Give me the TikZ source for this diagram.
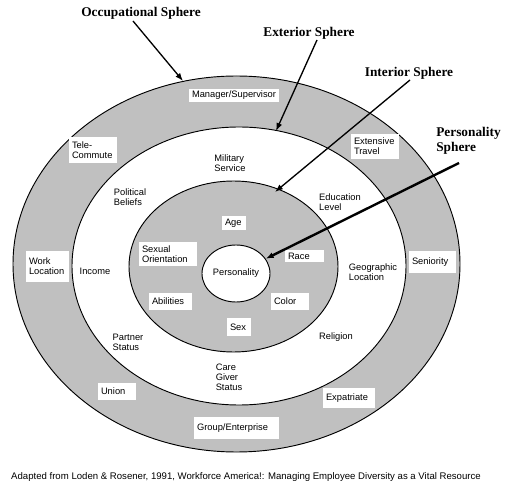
\documentclass[tikz,border=0pt]{standalone}
\usepackage{fontspec}
\setmainfont{Liberation Sans}
\newfontfamily\titlefont{Liberation Serif}
\usetikzlibrary{shapes.geometric,arrows.meta}
\definecolor{ringgray}{RGB}{192,192,192}
\newcommand{\labelsize}{\fontsize{7}{7.6}\selectfont}
\begin{document}
\begin{tikzpicture}[x=0.75pt,y=-0.75pt,
    ring/.style={draw=black,line width=0.7pt},
    tag/.style={fill=white,inner xsep=2.25pt,inner ysep=1pt,align=left,font=\labelsize},
    word/.style={inner sep=0pt,align=left,font=\labelsize},
    sphere/.style={inner sep=0pt,align=left,font=\titlefont\bfseries\fontsize{10}{11.5}\selectfont},
    pointer/.style={-{Latex[length=6pt,width=4.5pt]},line width=1pt}]
            \useasboundingbox (0,0) rectangle (507,488);

            \draw[ring,fill=ringgray] (236.5,264) ellipse [x radius=223.5,y radius=188];
            \draw[ring,fill=white] (239,266) ellipse [x radius=167,y radius=139];
            \draw[ring,fill=ringgray] (233.5,266.5) ellipse [x radius=104.5,y radius=85.5];
            \node[ring,ellipse,fill=white,inner sep=0pt,minimum width=51pt,minimum height=42.75pt,font=\labelsize] (core) at (236,273.5) {Personality};

            \node[tag,text width=63pt,minimum height=9.75pt] (mgr) at (234,95.5) {Manager/Supervisor};
            \node[tag,text width=31.5pt,minimum height=19.5pt] (tele) at (93,150) {Tele-\\Commute};
            \node[tag,text width=31.5pt,minimum height=18.75pt] (travel) at (375,146.5) {Extensive\\Travel};
            \node[tag,text width=27.75pt,minimum height=23.25pt] (work) at (47.5,266.5) {Work\\Location};
            \node[tag,text width=30.75pt,minimum height=16.5pt] (senior) at (432.5,262) {Seniority};
            \node[tag,text width=24pt,minimum height=12.75pt] (union) at (117,391.5) {Union};
            \node[tag,text width=34.5pt,minimum height=15pt] (expat) at (349,398) {Expatriate};
            \node[tag,text width=59.25pt,minimum height=16.5pt] (group) at (236.5,428) {Group/Enterprise};

            \node[word] (military) at (230,163) {Military\\Service};
            \node[word] (political) at (130,197) {Political\\Beliefs};
            \node[word] (education) at (340,202) {Education\\Level};
            \node[word] (income) at (95,271) {Income};
            \node[word] (geo) at (373,272) {Geographic\\Location};
            \node[word] (partner) at (128,342) {Partner\\Status};
            \node[word] (religion) at (336,337) {Religion};
            \node[word] (care) at (229,377) {Care\\Giver\\Status};

            \node[tag,text width=13.5pt,minimum height=10.5pt] (age) at (234,223) {Age};
            \node[tag,text width=39pt,minimum height=18pt] (sexual) at (168,254) {Sexual\\Orientation};
            \node[tag,text width=24.75pt,minimum height=9pt] (race) at (304.5,256) {Race};
            \node[tag,text width=27.75pt,minimum height=12.75pt] (abilities) at (170.5,301.5) {Abilities};
            \node[tag,text width=24pt,minimum height=12.75pt] (color) at (290,301.5) {Color};
            \node[tag,text width=13.5pt,minimum height=13.5pt] (sex) at (239,327) {Sex};

            \node[sphere] (occ) at (141,13) {Occupational Sphere};
            \node[sphere] (ext) at (309,33) {Exterior Sphere};
            \node[sphere] (intr) at (409,73) {Interior Sphere};
            \node[sphere] (pers) at (468.5,141) {Personality\\Sphere};

            \coordinate (occ-tail) at (133,21);
            \coordinate (occ-tip) at (183,81);
            \coordinate (ext-tail) at (317,40);
            \coordinate (ext-tip) at (276,131);
            \coordinate (intr-tail) at (410,80);
            \coordinate (intr-tip) at (275,192);
            \coordinate (pers-tail) at (459,163);

            \draw[pointer] (occ-tail) -- (occ-tip);
            \draw[pointer] (ext-tail) -- (ext-tip);
            \draw[pointer] (intr-tail) -- (intr-tip);
            \draw[pointer,line width=1.8pt] (pers-tail) -- (core);

            \node[word,font=\fontsize{7.2}{8}\selectfont] (source) at (246,477) {Adapted from Loden \& Rosener, 1991, Workforce America!: Managing Employee Diversity as a Vital Resource};
        \end{tikzpicture}
\end{document}
